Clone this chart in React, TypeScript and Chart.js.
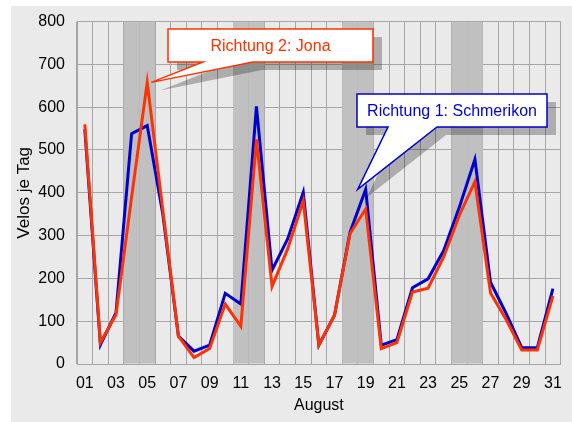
import React, { useEffect, useRef } from "react";
import { Chart, registerables } from "chart.js";

Chart.register(...registerables);

const days = [
  "01", "02", "03", "04", "05", "06", "07", "08", "09", "10",
  "11", "12", "13", "14", "15", "16", "17", "18", "19", "20",
  "21", "22", "23", "24", "25", "26", "27", "28", "29", "30", "31",
];

// Richtung 1: Schmerikon (blue)
const schmerikon = [
  548, 45, 120, 538, 557, 350, 65, 30, 44, 165,
  140, 602, 219, 292, 401, 44, 114, 308, 408, 44,
  57, 178, 199, 265, 366, 478, 191, 118, 38, 38, 176,
];

// Richtung 2: Jona (red)
const jona = [
  560, 50, 115, 390, 658, 360, 65, 15, 36, 140,
  88, 525, 181, 269, 381, 44, 114, 305, 362, 36,
  50, 168, 177, 250, 347, 426, 166, 104, 33, 33, 159,
];

// shaded weekend days
const weekendDays = ["04", "05", "11", "12", "18", "19", "25", "26"];

const seriesNames = ["Richtung 1: Schmerikon", "Richtung 2: Jona"];
const xTitle = "August";
const yTitle = "Velos je Tag";
const yMin = 0;
const yMax = 800;
const yStep = 50;
const yLabelStep = 100;

const BLUE = "#0000CC";
const RED = "#FF3300";
const GRID = "#A6A6A6";
const PANEL = "#EAEAEA";
const FONT = "'Liberation Sans', Arial, sans-serif";

function calloutPath(ctx, b, base1, base2, tip, dx, dy) {
  ctx.beginPath();
  ctx.moveTo(b.x + dx, b.y + dy);
  ctx.lineTo(b.x + b.w + dx, b.y + dy);
  ctx.lineTo(b.x + b.w + dx, b.y + b.h + dy);
  ctx.lineTo(base2 + dx, b.y + b.h + dy);
  ctx.lineTo(tip.x + dx, tip.y + dy);
  ctx.lineTo(base1 + dx, b.y + b.h + dy);
  ctx.lineTo(b.x + dx, b.y + b.h + dy);
  ctx.closePath();
}

function drawCallout(ctx, b, base1, base2, tip, color, text) {
  ctx.save();
  ctx.fillStyle = "rgba(0,0,0,0.26)";
  calloutPath(ctx, b, base1, base2, tip, 9, 8);
  ctx.fill();
  ctx.fillStyle = "#FFFFFF";
  calloutPath(ctx, b, base1, base2, tip, 0, 0);
  ctx.fill();
  ctx.strokeStyle = color;
  ctx.lineWidth = 1.5;
  ctx.stroke();
  ctx.fillStyle = color;
  ctx.font = `16px ${FONT}`;
  ctx.textAlign = "center";
  ctx.textBaseline = "middle";
  ctx.fillText(text, b.x + b.w / 2, b.y + b.h / 2 + 1);
  ctx.restore();
}

const panelPlugin = {
  id: "panelBg",
  beforeDraw(chart) {
    const { ctx, width, height } = chart;
    ctx.save();
    ctx.fillStyle = "#FFFFFF";
    ctx.fillRect(0, 0, width, height);
    ctx.fillStyle = PANEL;
    ctx.fillRect(11, 6, width - 11, height - 6);
    ctx.restore();
  },
};

const bandPlugin = {
  id: "weekendBands",
  beforeDatasetsDraw(chart) {
    const { ctx, chartArea } = chart;
    const xs = chart.scales.x;
    const half = (xs.right - xs.left) / days.length / 2;
    ctx.save();
    ctx.fillStyle = "#C0C0C0";
    weekendDays.forEach((d) => {
      const i = days.indexOf(d);
      const cx = xs.getPixelForValue(i);
      ctx.fillRect(cx - half, chartArea.top + 0.5, half * 2, chartArea.bottom - chartArea.top - 1);
    });
    ctx.restore();
  },
};

const calloutPlugin = {
  id: "callouts",
  afterDraw(chart) {
    const { ctx } = chart;
    const xs = chart.scales.x;
    const ys = chart.scales.y;
    const i5 = days.indexOf("05");
    const tipJ = { x: xs.getPixelForValue(i5) + 4, y: ys.getPixelForValue(jona[i5]) };
    drawCallout(ctx, { x: 168, y: 29, w: 205, h: 33 }, 203, 253, tipJ, RED, seriesNames[1]);
    const i19 = days.indexOf("19");
    const tipS = { x: xs.getPixelForValue(i19) - 8, y: ys.getPixelForValue(schmerikon[i19]) };
    drawCallout(ctx, { x: 357, y: 94, w: 190, h: 33 }, 388, 437, tipS, BLUE, seriesNames[0]);
  },
};

export default function App() {
  const ref = useRef(null);
  useEffect(() => {
    document.body.style.margin = "0";
    const chart = new Chart(ref.current, {
      type: "line",
      data: {
        labels: days,
        datasets: [
          {
            label: seriesNames[1],
            data: jona,
            borderColor: RED,
            backgroundColor: RED,
            borderWidth: 3,
            pointRadius: 0,
            tension: 0,
            fill: false,
          },
          {
            label: seriesNames[0],
            data: schmerikon,
            borderColor: BLUE,
            backgroundColor: BLUE,
            borderWidth: 3,
            pointRadius: 0,
            tension: 0,
            fill: false,
          },
        ],
      },
      options: {
        animation: false,
        responsive: false,
        maintainAspectRatio: false,
        devicePixelRatio: 1,
        layout: { padding: { left: 10, top: 20, right: 11, bottom: 0 } },
        plugins: {
          legend: { display: false },
          tooltip: { enabled: false },
        },
        scales: {
          x: {
            offset: true,
            grid: { offset: true, color: GRID, lineWidth: 1, drawTicks: false },
            border: { color: GRID, width: 1 },
            ticks: {
              autoSkip: false,
              maxRotation: 0,
              padding: 10,
              color: "#000",
              font: { family: FONT, size: 16 },
              callback: (v, i) => (i % 2 === 0 ? days[i] : ""),
            },
            title: {
              display: true,
              text: xTitle,
              color: "#000",
              font: { family: FONT, size: 16 },
              padding: { top: 0, bottom: 7 },
            },
            afterFit: (s) => {
              s.height = 58;
            },
          },
          y: {
            min: yMin,
            max: yMax,
            grid: { color: GRID, lineWidth: 1, drawTicks: false },
            border: { color: GRID, width: 1 },
            ticks: {
              stepSize: yStep,
              padding: 12,
              color: "#000",
              font: { family: FONT, size: 16 },
              callback: (v) => (v % yLabelStep === 0 ? String(v) : ""),
            },
            title: {
              display: true,
              text: yTitle,
              color: "#000",
              font: { family: FONT, size: 17 },
              padding: { top: 4, bottom: 0 },
            },
            afterFit: (s) => {
              s.width = 67;
            },
          },
        },
      },
      plugins: [panelPlugin, bandPlugin, calloutPlugin],
    });
    return () => chart.destroy();
  }, []);
  return <canvas ref={ref} width={572} height={422} style={{ display: "block" }} />;
}
